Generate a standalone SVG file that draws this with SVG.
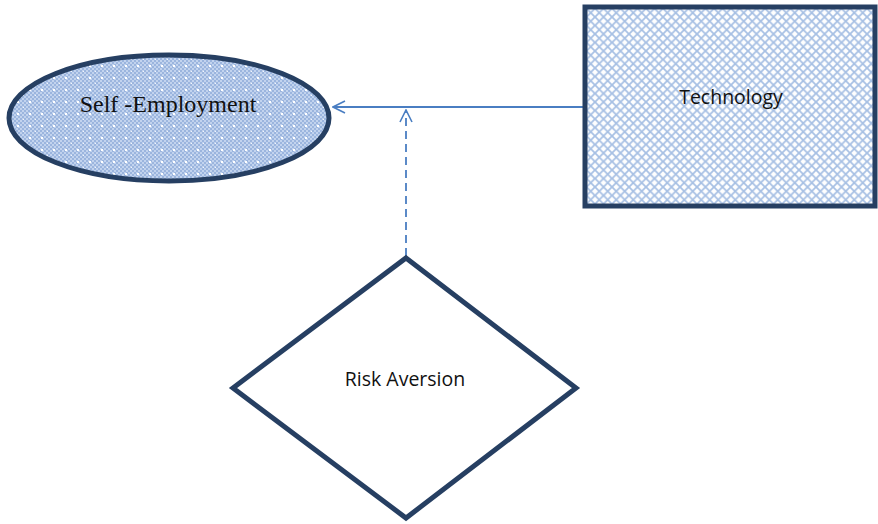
<svg xmlns="http://www.w3.org/2000/svg" width="878" height="524" viewBox="0 0 878 524">
<defs>
<pattern id="dots" width="4" height="4" patternUnits="userSpaceOnUse">
<rect width="4" height="4" fill="#9bb5de"/>
<rect width="2" height="2" fill="#c2d3ee"/>
<rect x="2" y="2" width="2" height="2" fill="#c2d3ee"/>
</pattern>
<pattern id="dotsW" width="12" height="12" patternUnits="userSpaceOnUse">
<rect width="12" height="12" fill="url(#dots)"/>
<rect x="5" y="5" width="2" height="2" fill="#ffffff"/>
<rect x="11" y="11" width="2" height="2" fill="#ffffff" opacity="0.8"/>
</pattern>
<pattern id="hatch" width="8.5" height="8.5" patternUnits="userSpaceOnUse">
<rect width="8.5" height="8.5" fill="#ffffff"/>
<path d="M0 0 L8.5 8.5 M8.5 0 L0 8.5" stroke="#a7c0e4" stroke-width="1.8"/>
</pattern>
<marker id="open" viewBox="0 0 14 14" refX="13" refY="7" markerWidth="14" markerHeight="14" markerUnits="userSpaceOnUse" orient="auto">
<path d="M1 1 L13 7 L1 13" fill="none" stroke="#4a7ec2" stroke-width="1.6"/>
</marker>
<style>
.node{stroke:#263f62;stroke-width:5}
.conn{stroke:#4a7ec2;stroke-width:1.8;fill:none}
.lbl{fill:#111;text-anchor:middle}
</style>
</defs>
<g id="connectors">
<line class="conn" x1="584" y1="107" x2="333" y2="107" marker-end="url(#open)"/>
<line class="conn" x1="406" y1="256" x2="406" y2="110" stroke-width="2" stroke-dasharray="8,5" marker-end="url(#open)"/>
</g>
<g id="self-employment">
<ellipse class="node" cx="169" cy="118" rx="160" ry="63" fill="url(#dotsW)"/>
<text class="lbl" x="168" y="112" style="font-family:'Liberation Serif',serif;font-size:24px">Self -Employment</text>
</g>
<g id="technology">
<rect class="node" x="585" y="7" width="290" height="199" fill="url(#hatch)"/>
<text class="lbl" x="731" y="104" style="font-family:'Open Sans','Liberation Sans',sans-serif;font-size:19.5px">Technology</text>
</g>
<g id="risk-aversion">
<polygon class="node" points="406,258 576,388 406,518 233,388" fill="#ffffff"/>
<text class="lbl" x="405" y="386" style="font-family:'Open Sans','Liberation Sans',sans-serif;font-size:19.5px">Risk Aversion</text>
</g>
</svg>
